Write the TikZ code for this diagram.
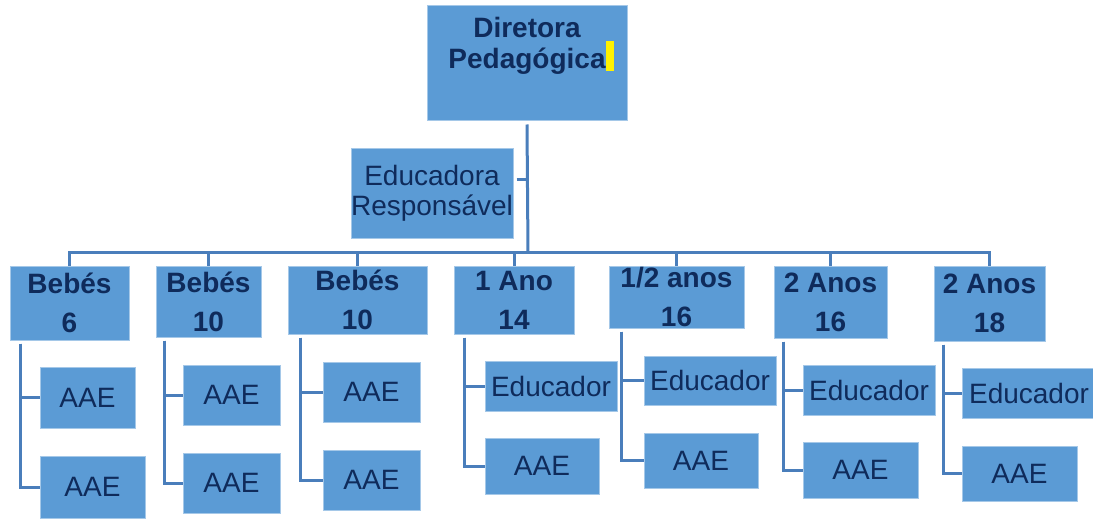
\documentclass[tikz,border=0pt]{standalone}
\usepackage{fontspec}
\setmainfont{Liberation Sans}
\usepackage{tikz}
\usetikzlibrary{arrows.meta,calc,positioning}
\definecolor{boxblue}{HTML}{5B9BD5}
\definecolor{textnavy}{HTML}{0F2B5B}
\definecolor{linkblue}{HTML}{4A7EBB}

\begin{document}
\begin{tikzpicture}[
		x=0.5pt,y=-0.5pt,
		box/.style={fill=boxblue,draw=white!45!boxblue,line width=0.5pt,inner sep=0pt,text=textnavy,align=center,font=\fontsize{14}{16}\selectfont},
		head/.style={box,font=\fontsize{14}{19.5}\selectfont\bfseries},
		link/.style={draw=linkblue,line width=1.5pt}
	]
	\useasboundingbox (0,0) rectangle (1093,519);
	% top
	\node[box,minimum width=100pt,minimum height=57.5pt] (dir) at (527,63.5) {};
	\node[inner sep=0pt,anchor=north,align=center,text=textnavy,font=\fontsize{14}{15.5}\selectfont\bfseries] (dirtxt) at (527,17) {Diretora\\Pedagógica};
	\fill[yellow] (606,41) rectangle (614,71);
	\node[box,minimum width=81pt,minimum height=44.5pt,font=\fontsize{14}{15}\selectfont] (edr) at (432,193.5) {Educadora\\Responsável};
	% groups
	\node[head,minimum width=59.5pt,minimum height=37pt] (b6) at (69.5,303) {Bebés\\6};
	\node[head,minimum width=52.5pt,minimum height=35.5pt] (b10a) at (208.5,301.5) {Bebés\\10};
	\node[head,minimum width=69.5pt,minimum height=34pt] (b10b) at (357.5,300) {Bebés\\10};
	\node[head,minimum width=60pt,minimum height=34pt] (a1) at (514,300) {1 Ano\\14};
	\node[head,minimum width=67.5pt,minimum height=31pt] (a12) at (676.5,297) {1/2 anos\\16};
	\node[head,minimum width=56.5pt,minimum height=36pt] (a2a) at (830.5,302) {2 Anos\\16};
	\node[head,minimum width=55.5pt,minimum height=37.5pt] (a2b) at (989.5,303.5) {2 Anos\\18};
	% staff
	\node[box,minimum width=47.5pt,minimum height=30.5pt] (b6s1) at (87.5,397.5) {AAE};
	\node[box,minimum width=52.5pt,minimum height=31pt] (b6s2) at (92.5,487) {AAE};
	\node[box,minimum width=48.5pt,minimum height=30pt] (b10as1) at (231.5,395) {AAE};
	\node[box,minimum width=48.5pt,minimum height=30pt] (b10as2) at (231.5,483) {AAE};
	\node[box,minimum width=48.5pt,minimum height=30pt] (b10bs1) at (371.5,392) {AAE};
	\node[box,minimum width=48.5pt,minimum height=30pt] (b10bs2) at (371.5,480) {AAE};
	\node[box,minimum width=66pt,minimum height=25pt] (a1s1) at (551,386) {Educador};
	\node[box,minimum width=57pt,minimum height=28pt] (a1s2) at (542,466) {AAE};
	\node[box,minimum width=66pt,minimum height=24.5pt] (a12s1) at (710,380.5) {Educador};
	\node[box,minimum width=57pt,minimum height=27.5pt] (a12s2) at (701,460.5) {AAE};
	\node[box,minimum width=66pt,minimum height=25pt] (a2as1) at (869,390) {Educador};
	\node[box,minimum width=57.5pt,minimum height=28pt] (a2as2) at (860.5,470) {AAE};
	\node[box,minimum width=67pt,minimum height=25pt] (a2bs1) at (1029,393) {Educador};
	\node[box,minimum width=57.5pt,minimum height=27.5pt] (a2bs2) at (1019.5,473.5) {AAE};
	% connectors
	\coordinate (bar) at (528,252);
	\draw[link] ([yshift=-1.5pt]dir.south) -- (bar);
	\draw[link] ([xshift=1.5pt,yshift=6.75pt]edr.east) -- ([yshift=6.75pt]edr.east -| bar);
	\draw[link] (b6.north) -- (b6.north |- bar) -- (a2b.north |- bar) -- (a2b.north);
	\foreach \g in {b10a,b10b,a1,a12,a2a}
		\draw[link] (\g.north) -- (\g.north |- bar);
	\foreach \g/\d in {b6/5.5pt,b10a/4.5pt,b10b/6.5pt,a1/5.5pt,a12/6.5pt,a2a/5pt,a2b/5pt} {
		\draw[link] ([xshift=\d,yshift=-1.5pt]\g.south west) |- (\g s1.west);
		\draw[link] ([xshift=\d,yshift=-1.5pt]\g.south west) |- (\g s2.west);
	}
\end{tikzpicture}
\end{document}
